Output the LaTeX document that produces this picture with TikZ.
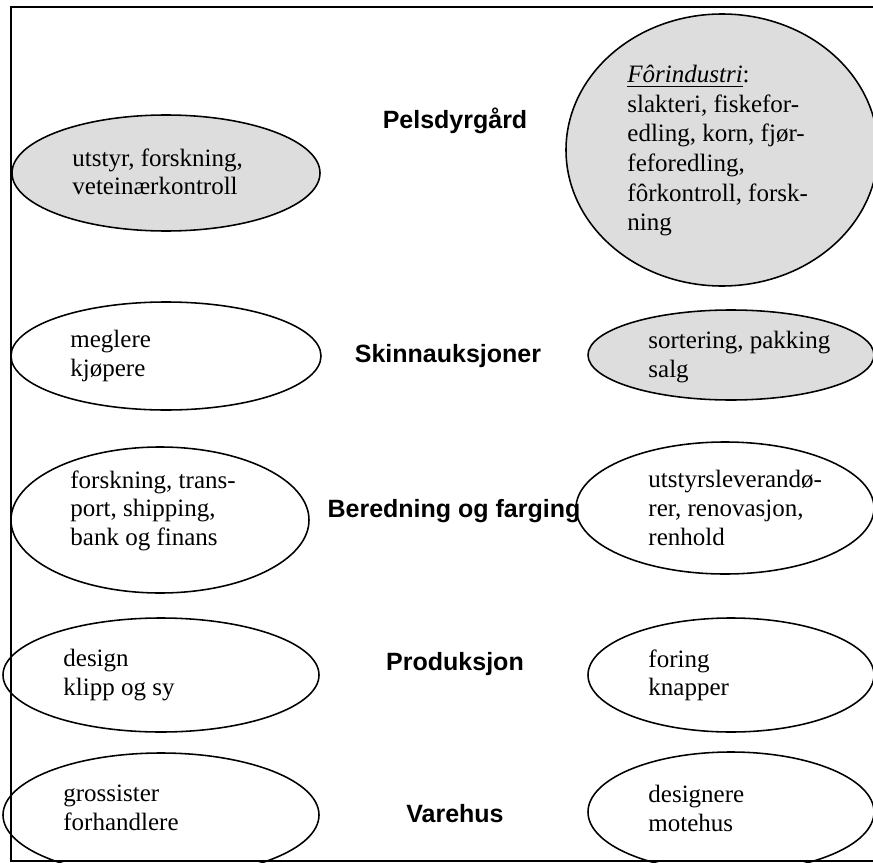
\documentclass[tikz,border=0pt]{standalone}
\usepackage{fontspec}
\setmainfont{Liberation Serif}
\setsansfont{Liberation Sans}
\usepackage{tikz}
\usetikzlibrary{shapes.geometric,positioning}
\newcommand{\pxu}{0.48pt}

\begin{document}
\begin{tikzpicture}[x=0.48pt,y=-0.48pt,
  oval/.style={draw,ellipse,line width=0.75pt,inner sep=0pt},
  grey/.style={fill=gray!27},
  txt/.style={anchor=north west,inner sep=0pt,align=left,font=\rmfamily\fontsize{12pt}{13.8pt}\selectfont},
  lbl/.style={anchor=base,inner sep=0pt,font=\sffamily\bfseries\fontsize{12pt}{14pt}\selectfont}]
\clip (0,0) rectangle (873,862);
\draw[line width=1pt] (890,7)--(11,7)--(11,861)--(890,861);

\node[oval,grey,minimum width=308*\pxu,minimum height=116*\pxu] (utstyr) at (166,173) {};
\node[oval,grey,minimum width=312*\pxu,minimum height=272*\pxu] (forind) at (722,150) {};
\node[oval,minimum width=310*\pxu,minimum height=108*\pxu] (megler) at (166,356) {};
\node[oval,grey,minimum width=286*\pxu,minimum height=90*\pxu] (sorter) at (731,355) {};
\node[oval,minimum width=298*\pxu,minimum height=146*\pxu] (forsk) at (160,520) {};
\node[oval,minimum width=298*\pxu,minimum height=132*\pxu] (leverand) at (725,508) {};
\node[oval,minimum width=316*\pxu,minimum height=114*\pxu] (design) at (161,675) {};
\node[oval,minimum width=286*\pxu,minimum height=114*\pxu] (foring) at (731,675) {};
\node[oval,minimum width=316*\pxu,minimum height=124*\pxu] (gross) at (161,815) {};
\node[oval,minimum width=286*\pxu,minimum height=120*\pxu] (designere) at (731,812) {};

\node[txt] (utstyrTxt) at (72,148) {utstyr, forskning,\\veteinærkontroll};
\node[txt,font=\rmfamily\fontsize{12pt}{14.2pt}\selectfont] (forindTxt) at (627,65) {\underline{\textit{Fôrindustri}}:\\slakteri, fiskefor-\\edling, korn, fjør-\\feforedling,\\fôrkontroll, forsk-\\ning};
\node[txt] (meglerTxt) at (70,330) {meglere\\kjøpere};
\node[txt] (sorterTxt) at (648,331) {sortering, pakking\\salg};
\node[txt] (forskTxt) at (70,470) {forskning, trans-\\port, shipping,\\bank og finans};
\node[txt] (leverandTxt) at (648,470) {utstyrsleverandø-\\rer, renovasjon,\\renhold};
\node[txt] (designTxt) at (63,649) {design\\klipp og sy};
\node[txt] (foringTxt) at (648,649) {foring\\knapper};
\node[txt] (grossTxt) at (63,785) {grossister\\forhandlere};
\node[txt] (designereTxt) at (648,785) {designere\\motehus};

\node[lbl] (pelsdyr) at (455,129) {Pelsdyrgård};
\node[lbl] (skinn) at (448,362) {Skinnauksjoner};
\node[lbl] (beredning) at (454,517) {Beredning og farging};
\node[lbl] (produksjon) at (455,670) {Produksjon};
\node[lbl] (varehus) at (455,822) {Varehus};
\end{tikzpicture}
\end{document}
